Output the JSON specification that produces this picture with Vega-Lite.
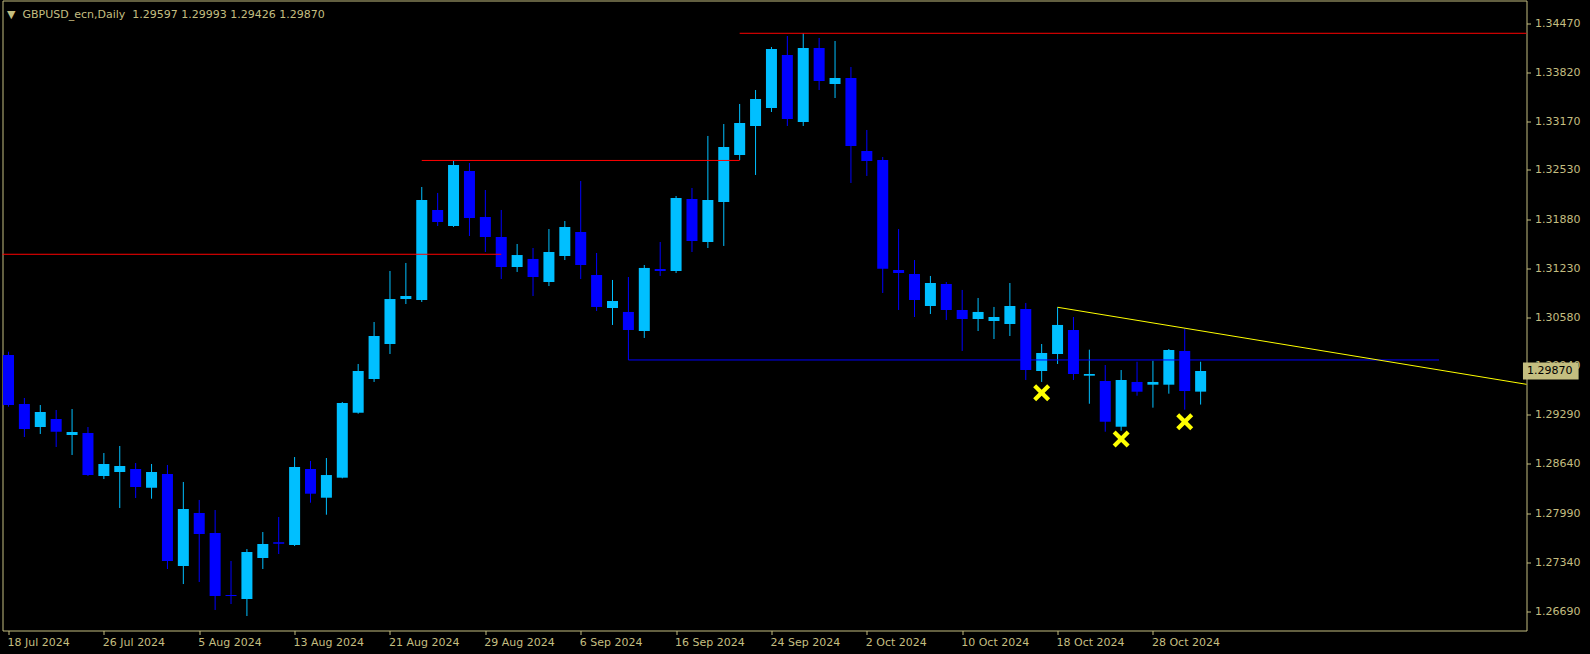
{
  "$schema": "https://vega.github.io/schema/vega-lite/v6.json",
  "width": 1524,
  "height": 630,
  "autosize": {"type": "none"},
  "padding": {"left": 2.5, "top": 0.5, "right": 63.5, "bottom": 23.5},
  "background": "#000000",
  "title": {
    "text": "▼\u00a0\u00a0GBPUSD_ecn,Daily\u00a0\u00a01.29597 1.29993 1.29426 1.29870",
    "anchor": "start",
    "frame": "group",
    "orient": "top",
    "offset": -16,
    "dx": 4.5,
    "dy": 12,
    "baseline": "alphabetic",
    "font": "DejaVu Sans",
    "fontSize": 11,
    "fontWeight": "normal",
    "color": "#C4BE80"
  },
  "datasets": {
    "candles": [
      {"d": "18 Jul 2024", "o": 1.30082, "h": 1.30125, "l": 1.29398, "c": 1.29420},
      {"d": "19 Jul 2024", "o": 1.29434, "h": 1.29513, "l": 1.28997, "c": 1.29103},
      {"d": "22 Jul 2024", "o": 1.29129, "h": 1.29420, "l": 1.29037, "c": 1.29328},
      {"d": "23 Jul 2024", "o": 1.29235, "h": 1.29354, "l": 1.28865, "c": 1.29067},
      {"d": "24 Jul 2024", "o": 1.29023, "h": 1.29367, "l": 1.28759, "c": 1.29063},
      {"d": "25 Jul 2024", "o": 1.29050, "h": 1.29129, "l": 1.28481, "c": 1.28494},
      {"d": "26 Jul 2024", "o": 1.28481, "h": 1.28785, "l": 1.28441, "c": 1.28640},
      {"d": "29 Jul 2024", "o": 1.28534, "h": 1.28878, "l": 1.28058, "c": 1.28613},
      {"d": "30 Jul 2024", "o": 1.28574, "h": 1.28653, "l": 1.28190, "c": 1.28336},
      {"d": "31 Jul 2024", "o": 1.28326, "h": 1.28640, "l": 1.28181, "c": 1.28534},
      {"d": "1 Aug 2024", "o": 1.28508, "h": 1.28627, "l": 1.27251, "c": 1.27357},
      {"d": "2 Aug 2024", "o": 1.27291, "h": 1.28402, "l": 1.27052, "c": 1.28045},
      {"d": "5 Aug 2024", "o": 1.27992, "h": 1.28164, "l": 1.27079, "c": 1.27714},
      {"d": "6 Aug 2024", "o": 1.27727, "h": 1.28031, "l": 1.26709, "c": 1.26894},
      {"d": "7 Aug 2024", "o": 1.26907, "h": 1.27357, "l": 1.26788, "c": 1.26894},
      {"d": "8 Aug 2024", "o": 1.26854, "h": 1.27515, "l": 1.26629, "c": 1.27476},
      {"d": "9 Aug 2024", "o": 1.27396, "h": 1.27740, "l": 1.27251, "c": 1.27582},
      {"d": "12 Aug 2024", "o": 1.27604, "h": 1.27939, "l": 1.27449, "c": 1.27586},
      {"d": "13 Aug 2024", "o": 1.27568, "h": 1.28732, "l": 1.27555, "c": 1.28600},
      {"d": "14 Aug 2024", "o": 1.28574, "h": 1.28680, "l": 1.28128, "c": 1.28247},
      {"d": "15 Aug 2024", "o": 1.28194, "h": 1.28719, "l": 1.27969, "c": 1.28494},
      {"d": "16 Aug 2024", "o": 1.28459, "h": 1.29460, "l": 1.28450, "c": 1.29447},
      {"d": "19 Aug 2024", "o": 1.29318, "h": 1.29963, "l": 1.29305, "c": 1.29870},
      {"d": "20 Aug 2024", "o": 1.29764, "h": 1.30518, "l": 1.29725, "c": 1.30333},
      {"d": "21 Aug 2024", "o": 1.30227, "h": 1.31193, "l": 1.30095, "c": 1.30822},
      {"d": "22 Aug 2024", "o": 1.30822, "h": 1.31299, "l": 1.30756, "c": 1.30862},
      {"d": "23 Aug 2024", "o": 1.30809, "h": 1.32304, "l": 1.30783, "c": 1.32132},
      {"d": "26 Aug 2024", "o": 1.32000, "h": 1.32225, "l": 1.31788, "c": 1.31841},
      {"d": "27 Aug 2024", "o": 1.31788, "h": 1.32648, "l": 1.31775, "c": 1.32595},
      {"d": "28 Aug 2024", "o": 1.32516, "h": 1.32621, "l": 1.31656, "c": 1.31894},
      {"d": "29 Aug 2024", "o": 1.31907, "h": 1.32264, "l": 1.31444, "c": 1.31643},
      {"d": "30 Aug 2024", "o": 1.31643, "h": 1.32000, "l": 1.31087, "c": 1.31246},
      {"d": "2 Sep 2024", "o": 1.31246, "h": 1.31550, "l": 1.31180, "c": 1.31404},
      {"d": "3 Sep 2024", "o": 1.31352, "h": 1.31497, "l": 1.30862, "c": 1.31113},
      {"d": "4 Sep 2024", "o": 1.31047, "h": 1.31748, "l": 1.30994, "c": 1.31444},
      {"d": "5 Sep 2024", "o": 1.31391, "h": 1.31854, "l": 1.31338, "c": 1.31775},
      {"d": "6 Sep 2024", "o": 1.31709, "h": 1.32383, "l": 1.31087, "c": 1.31272},
      {"d": "9 Sep 2024", "o": 1.31140, "h": 1.31431, "l": 1.30664, "c": 1.30717},
      {"d": "10 Sep 2024", "o": 1.30703, "h": 1.31074, "l": 1.30479, "c": 1.30796},
      {"d": "11 Sep 2024", "o": 1.30651, "h": 1.31113, "l": 1.30016, "c": 1.30412},
      {"d": "12 Sep 2024", "o": 1.30399, "h": 1.31272, "l": 1.30307, "c": 1.31233},
      {"d": "13 Sep 2024", "o": 1.31219, "h": 1.31576, "l": 1.31127, "c": 1.31193},
      {"d": "16 Sep 2024", "o": 1.31193, "h": 1.32185, "l": 1.31166, "c": 1.32158},
      {"d": "17 Sep 2024", "o": 1.32145, "h": 1.32291, "l": 1.31444, "c": 1.31590},
      {"d": "18 Sep 2024", "o": 1.31576, "h": 1.32979, "l": 1.31497, "c": 1.32132},
      {"d": "19 Sep 2024", "o": 1.32106, "h": 1.33137, "l": 1.31524, "c": 1.32833},
      {"d": "20 Sep 2024", "o": 1.32727, "h": 1.33402, "l": 1.32661, "c": 1.33151},
      {"d": "23 Sep 2024", "o": 1.33111, "h": 1.33587, "l": 1.32463, "c": 1.33468},
      {"d": "24 Sep 2024", "o": 1.33349, "h": 1.34156, "l": 1.33296, "c": 1.34129},
      {"d": "25 Sep 2024", "o": 1.34050, "h": 1.34301, "l": 1.33111, "c": 1.33203},
      {"d": "26 Sep 2024", "o": 1.33164, "h": 1.34337, "l": 1.33111, "c": 1.34143},
      {"d": "27 Sep 2024", "o": 1.34143, "h": 1.34275, "l": 1.33587, "c": 1.33706},
      {"d": "30 Sep 2024", "o": 1.33666, "h": 1.34235, "l": 1.33481, "c": 1.33746},
      {"d": "1 Oct 2024", "o": 1.33746, "h": 1.33891, "l": 1.32357, "c": 1.32846},
      {"d": "2 Oct 2024", "o": 1.32780, "h": 1.33058, "l": 1.32450, "c": 1.32648},
      {"d": "3 Oct 2024", "o": 1.32661, "h": 1.32701, "l": 1.30902, "c": 1.31223},
      {"d": "4 Oct 2024", "o": 1.31206, "h": 1.31748, "l": 1.30677, "c": 1.31166},
      {"d": "7 Oct 2024", "o": 1.31153, "h": 1.31338, "l": 1.30584, "c": 1.30809},
      {"d": "8 Oct 2024", "o": 1.30730, "h": 1.31127, "l": 1.30624, "c": 1.31034},
      {"d": "9 Oct 2024", "o": 1.31021, "h": 1.31047, "l": 1.30545, "c": 1.30677},
      {"d": "10 Oct 2024", "o": 1.30677, "h": 1.30942, "l": 1.30135, "c": 1.30558},
      {"d": "11 Oct 2024", "o": 1.30558, "h": 1.30836, "l": 1.30399, "c": 1.30651},
      {"d": "14 Oct 2024", "o": 1.30531, "h": 1.30717, "l": 1.30293, "c": 1.30584},
      {"d": "15 Oct 2024", "o": 1.30492, "h": 1.31034, "l": 1.30333, "c": 1.30730},
      {"d": "16 Oct 2024", "o": 1.30690, "h": 1.30770, "l": 1.29751, "c": 1.29883},
      {"d": "17 Oct 2024", "o": 1.29870, "h": 1.30227, "l": 1.29725, "c": 1.30108},
      {"d": "18 Oct 2024", "o": 1.30095, "h": 1.30713, "l": 1.29963, "c": 1.30479},
      {"d": "21 Oct 2024", "o": 1.30412, "h": 1.30584, "l": 1.29751, "c": 1.29830},
      {"d": "22 Oct 2024", "o": 1.29808, "h": 1.30152, "l": 1.29437, "c": 1.29830},
      {"d": "23 Oct 2024", "o": 1.29738, "h": 1.29949, "l": 1.29067, "c": 1.29199},
      {"d": "24 Oct 2024", "o": 1.29133, "h": 1.29883, "l": 1.29080, "c": 1.29751},
      {"d": "25 Oct 2024", "o": 1.29725, "h": 1.29993, "l": 1.29543, "c": 1.29596},
      {"d": "28 Oct 2024", "o": 1.29689, "h": 1.30006, "l": 1.29385, "c": 1.29725},
      {"d": "29 Oct 2024", "o": 1.29689, "h": 1.30161, "l": 1.29570, "c": 1.30148},
      {"d": "30 Oct 2024", "o": 1.30135, "h": 1.30430, "l": 1.29358, "c": 1.29605},
      {"d": "31 Oct 2024", "o": 1.29597, "h": 1.29993, "l": 1.29426, "c": 1.29870}
    ],
    "levels": [
      {"from": 0, "to": 32, "price": 1.31414},
      {"from": 27, "to": 47, "price": 1.32655},
      {"from": 47, "to": 100, "price": 1.34337}
    ],
    "support": [
      {"from": 40, "to": 91, "price": 1.30016}
    ],
    "trend": [
      {"from": 67, "p1": 1.30713, "to": 100, "p2": 1.29573}
    ],
    "marks": [
      {"bar": 66, "price": 1.29583},
      {"bar": 71, "price": 1.28971},
      {"bar": 75, "price": 1.29199}
    ]
  },
  "layer": [
    {
      "data": {"name": "candles"},
      "transform": [{"window": [{"op": "row_number", "as": "n"}]}],
      "mark": {"type": "rule", "strokeWidth": 1, "clip": true},
      "encoding": {
        "x": {
          "field": "n", "type": "quantitative", "title": null,
          "scale": {"domain": [0.9375, 96.1875], "nice": false, "zero": false},
          "axis": {
            "orient": "bottom",
            "values": [1, 7, 13, 19, 25, 31, 37, 43, 49, 55, 61, 67, 73],
            "labelExpr": "['18 Jul 2024','26 Jul 2024','5 Aug 2024','13 Aug 2024','21 Aug 2024','29 Aug 2024','6 Sep 2024','16 Sep 2024','24 Sep 2024','2 Oct 2024','10 Oct 2024','18 Oct 2024','28 Oct 2024'][(datum.value-1)/6]",
            "labelAlign": "left",
            "labelBaseline": "top",
            "labelPadding": 2,
            "labelOffset": -1.5,
            "labelOverlap": false,
            "labelFlush": false,
            "labelBound": false,
            "tickSize": 4,
            "domain": false,
            "grid": false
          }
        },
        "y": {
          "field": "h", "type": "quantitative", "title": null,
          "scale": {"domain": [1.264375, 1.347708], "nice": false, "zero": false},
          "axis": {
            "orient": "right",
            "values": [1.3447, 1.3382, 1.3317, 1.3253, 1.3188, 1.3123, 1.3058, 1.2994, 1.2929, 1.2864, 1.2799, 1.2734, 1.2669],
            "format": ".5f",
            "labelPadding": 4,
            "labelOverlap": false,
            "labelFlush": false,
            "labelBound": false,
            "tickSize": 4,
            "domain": false,
            "grid": false
          }
        },
        "y2": {"field": "l"},
        "color": {"condition": {"test": "datum.c >= datum.o", "value": "#00BFFF"}, "value": "#0000FF"}
      }
    },
    {
      "data": {"name": "candles"},
      "transform": [{"window": [{"op": "row_number", "as": "n"}]}],
      "mark": {"type": "bar", "size": 11, "strokeWidth": 0, "clip": true},
      "encoding": {
        "x": {"field": "n", "type": "quantitative", "title": null},
        "y": {"field": "o", "type": "quantitative", "title": null},
        "y2": {"field": "c"},
        "color": {"condition": {"test": "datum.c >= datum.o", "value": "#00BFFF"}, "value": "#0000FF"}
      }
    },
    {
      "data": {"name": "levels"},
      "mark": {"type": "rule", "color": "#FF0000", "strokeWidth": 1, "clip": true},
      "encoding": {
        "x": {"field": "from", "type": "quantitative", "title": null},
        "x2": {"field": "to"},
        "y": {"field": "price", "type": "quantitative", "title": null}
      }
    },
    {
      "data": {"name": "support"},
      "mark": {"type": "rule", "color": "#0000FF", "strokeWidth": 1, "clip": true},
      "encoding": {
        "x": {"field": "from", "type": "quantitative", "title": null},
        "x2": {"field": "to"},
        "y": {"field": "price", "type": "quantitative", "title": null}
      }
    },
    {
      "data": {"name": "trend"},
      "mark": {"type": "rule", "color": "#FFFF00", "strokeWidth": 1, "clip": true},
      "encoding": {
        "x": {"field": "from", "type": "quantitative", "title": null},
        "x2": {"field": "to"},
        "y": {"field": "p1", "type": "quantitative", "title": null},
        "y2": {"field": "p2"}
      }
    },
    {
      "data": {"name": "marks"},
      "mark": {
        "type": "point",
        "shape": "M-1,-0.65L-0.65,-1L0,-0.35L0.65,-1L1,-0.65L0.35,0L1,0.65L0.65,1L0,0.35L-0.65,1L-1,0.65L-0.35,0Z",
        "filled": true,
        "size": 289,
        "color": "#FFFF00",
        "opacity": 1,
        "strokeWidth": 0
      },
      "encoding": {
        "x": {"field": "bar", "type": "quantitative", "title": null},
        "y": {"field": "price", "type": "quantitative", "title": null}
      }
    },
    {
      "data": {"name": "candles"},
      "transform": [{"window": [{"op": "row_number", "as": "n"}]}, {"filter": "datum.n == 76"}],
      "mark": {"type": "rect", "color": "#C4BE80"},
      "encoding": {
        "x": {"datum": 96.28, "type": "quantitative"},
        "x2": {"datum": 99.78},
        "y": {"datum": 1.29982, "type": "quantitative"},
        "y2": {"datum": 1.29758}
      }
    },
    {
      "data": {"name": "candles"},
      "transform": [{"window": [{"op": "row_number", "as": "n"}]}, {"filter": "datum.n == 76"}],
      "mark": {"type": "text", "color": "#000000", "font": "DejaVu Sans", "fontSize": 11, "align": "center", "baseline": "middle"},
      "encoding": {
        "x": {"datum": 97.97, "type": "quantitative"},
        "y": {"field": "c", "type": "quantitative", "title": null},
        "text": {"field": "c", "type": "quantitative", "format": ".5f"}
      }
    }
  ],
  "config": {
    "view": {"stroke": "#C4BE80", "strokeWidth": 1, "fill": "#000000"},
    "axis": {
      "labelColor": "#C4BE80",
      "tickColor": "#C4BE80",
      "labelFont": "DejaVu Sans",
      "labelFontSize": 11,
      "tickWidth": 1
    }
  }
}
